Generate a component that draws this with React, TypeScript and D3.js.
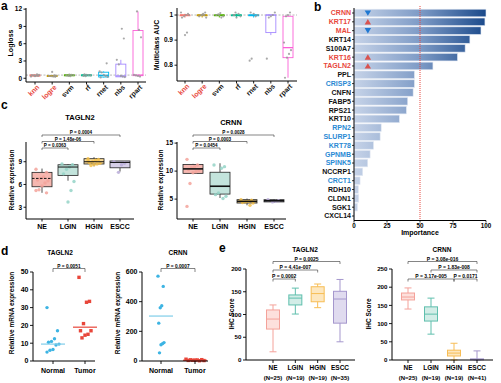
import React from 'react';
import * as d3 from 'd3';

const FONT = "'Liberation Sans', Arial, Helvetica, sans-serif";
const RED = '#e8473c';
const BLUE = '#2a8ad4';

// ---------------- panel a ----------------
const models = ['knn', 'logre', 'svm', 'rf', 'rnet', 'nbs', 'rpart'];
const modelColors = ['#F8766D', '#C49A00', '#53B400', '#00C094', '#00B6EB', '#A58AFF', '#FB61D7'];
const highlightModels = ['knn', 'logre'];
// [min, q1, median, q3, max]
const loglossStats = [
  [0.3, 0.38, 0.47, 0.58, 0.7],
  [0.25, 0.3, 0.38, 0.47, 0.55],
  [0.35, 0.42, 0.52, 0.6, 0.65],
  [0.35, 0.42, 0.52, 0.6, 0.7],
  [0.15, 0.22, 0.5, 1.05, 1.2],
  [0.2, 0.25, 0.4, 2.45, 3.2],
  [0.3, 0.45, 0.55, 8.3, 11.6],
];
const loglossPoints = [
  [0.3, 0.4, 0.45, 0.5, 0.55, 0.6, 0.7, 0.35],
  [0.25, 0.3, 0.35, 0.4, 0.45, 0.5, 1.1],
  [0.35, 0.4, 0.5, 0.55, 0.6, 0.65],
  [0.35, 0.4, 0.5, 0.55, 0.6, 0.7],
  [0.15, 0.25, 0.4, 0.6, 1.0, 1.2, 2.6],
  [0.2, 0.3, 0.4, 2.4, 3.2, 6.9, 8.6],
  [0.3, 0.4, 0.5, 0.6, 7.1, 8.4, 11.6],
];
const loglossTicks = [0, 3, 6, 9, 12];
const loglossRef = 0.55;
const aucStats = [
  [0.99, 0.997, 1.0, 1.0, 1.005],
  [0.99, 0.997, 1.0, 1.0, 1.005],
  [0.99, 0.997, 1.0, 1.0, 1.005],
  [0.99, 0.997, 1.0, 1.0, 1.005],
  [0.99, 0.997, 1.0, 1.0, 1.005],
  [0.92, 0.93, 1.0, 1.0, 1.0],
  [0.75, 0.83, 0.87, 0.995, 1.0],
];
const aucPoints = [
  [1.01, 1.005, 1.0, 0.995, 0.99, 1.0, 0.93, 0.92],
  [1.01, 1.005, 1.0, 0.995, 0.99, 1.0, 1.0],
  [1.008, 1.003, 1.0, 0.995, 0.99, 1.0],
  [1.01, 1.0, 0.995, 1.005, 0.99, 1.0],
  [1.01, 1.0, 0.995, 1.005, 0.826, 0.818],
  [1.01, 1.0, 0.995, 0.99, 0.826],
  [1.01, 1.0, 0.995, 0.89, 0.86, 0.845, 0.83, 0.75],
];
const aucTicks = [0.8, 0.9, 1];
const aucRef = 1.0;

// ---------------- panel b ----------------
const genes = ['CRNN', 'KRT17', 'MAL', 'KRT14', 'S100A7', 'KRT16', 'TAGLN2', 'PPL', 'CRISP3', 'CNFN', 'FABP5', 'RPS21',
  'KRT10', 'RPN2', 'SLURP1', 'KRT78', 'GPNMB', 'SPINK5', 'NCCRP1', 'CRCT1', 'RDH10', 'CLDN1', 'SGK1', 'CXCL14'];
const importance = [100, 99.2, 96.2, 87.8, 84.2, 78.4, 59.8, 45.8, 45.8, 44.8, 40.7, 39.7,
  34.4, 20.6, 19.8, 14.8, 12.2, 10.4, 6.6, 4.6, 3.3, 3.6, 2.6, 0.3];
const upGenes = ['KRT17', 'KRT16', 'TAGLN2'];
const downGenes = ['CRNN', 'MAL'];
const redGenes = ['CRNN', 'KRT17', 'MAL', 'KRT16', 'TAGLN2'];
const blueGenes = ['CRISP3', 'RPN2', 'SLURP1', 'KRT78', 'GPNMB', 'SPINK5', 'CRCT1'];
const importanceTicks = [0, 25, 50, 75, 100];
const importanceCutoff = 50;

// ---------------- panel c ----------------
const cGroups = ['NE', 'LGIN', 'HGIN', 'ESCC'];
const cFill = ['#f5b7b0', '#c3e4dc', '#f8d996', '#d6cfe7'];
const cPointColors = ['#f3a39b', '#94d3c7', '#f5c14a', '#b8acd8'];
const tagln2CStats = [[4.9, 5.7, 6.8, 7.6, 8.1], [6.5, 7.2, 8.3, 8.6, 8.7], [8.4, 8.7, 9.0, 9.4, 9.6], [7.7, 8.2, 8.9, 9.1, 9.1]];
const tagln2CPoints = [
  [8.0, 7.6, 7.0, 6.8, 6.6, 6.5, 6.2, 5.8, 5.3, 5.2, 4.9],
  [8.7, 8.6, 8.3, 8.0, 7.4, 6.4, 5.2, 3.7],
  [9.4, 9.3, 9.2, 9.0, 8.9, 8.8, 8.7, 8.6, 8.5, 9.1],
  [9.0, 8.8, 8.6, 7.6],
];
const tagln2CTicks = [3, 6, 9];
const tagln2CBrackets: [string, string, string, number][] = [
  ['P = 0.0004', 'NE', 'ESCC', 0], ['P = 1.48e-06', 'NE', 'HGIN', 1], ['P = 0.0363', 'NE', 'LGIN', 2]];
const crnnCStats = [[9.6, 9.6, 10.4, 11.2, 11.3], [5.2, 5.9, 7.3, 9.8, 11.4], [3.9, 4.3, 4.6, 4.9, 5.1], [4.4, 4.5, 4.7, 4.9, 5.0]];
const crnnCPoints = [
  [12.1, 11.1, 10.8, 10.6, 10.3, 10.1, 9.9, 9.7, 7.8, 3.7],
  [11.1, 10.8, 10.5, 6.1, 5.8, 5.5, 5.1],
  [4.9, 4.8, 4.6, 4.5, 4.4, 4.3, 3.9],
  [4.9, 4.7, 4.6, 4.5],
];
const crnnCTicks = [5, 10, 15];
const crnnCBrackets: [string, string, string, number][] = [
  ['P = 0.0028', 'NE', 'ESCC', 0], ['P = 0.0003', 'NE', 'HGIN', 1], ['P = 0.0454', 'NE', 'LGIN', 2]];

// ---------------- panel d ----------------
const dGroups = ['Normal', 'Tumor'];
const tagln2DNormal = [30, 17, 12.5, 11, 10.5, 9.5, 9, 6.5, 6, 5];
const tagln2DTumor = [47, 33.5, 33, 21, 17, 17, 15, 14.5, 13];
const tagln2DCenter = [9.5, 19];
const tagln2DTicks = [0, 10, 20, 30, 40, 50];
const tagln2DP = 'P = 0.0051';
const crnnDNormal = [572, 503, 372, 359, 255, 124, 117, 110, 55];
const crnnDTumor = [12, 9, 7, 5, 4, 3, 2, 6, 8];
const crnnDCenter = [303, 5];
const crnnDTicks = [0, 200, 400, 600];
const crnnDP = 'P = 0.0007';

// ---------------- panel e ----------------
const eGroups = ['NE', 'LGIN', 'HGIN', 'ESCC'];
const tagln2EN = ['(N=25)', '(N=19)', '(N=19)', '(N=35)'];
const crnnEN = ['(N=25)', '(N=19)', '(N=19)', '(N=41)'];
const eStroke = ['#f4a29a', '#5fbfad', '#f7bd55', '#a597cd'];
const eFill = ['#fde0dc', '#d2ede7', '#fde7bf', '#e0dbef'];
const tagln2EStats = [[18, 68, 90, 110, 121], [101, 121, 136, 143, 158], [115, 128, 146, 161, 167], [40, 81, 134, 151, 177]];
const tagln2ETicks = [0, 50, 100, 150, 200];
const tagln2EBrackets: [string, string, string, number][] = [
  ['P = 0.0025', 'NE', 'ESCC', 0], ['P = 4.41e-007', 'NE', 'HGIN', 1], ['P = 0.0002', 'NE', 'LGIN', 2]];
const crnnEStats = [[140, 165, 173, 184, 198], [71, 107, 126, 146, 170], [0, 11, 19, 27, 46], [0, 0.5, 1.5, 3, 25]];
const crnnETicks = [0, 50, 100, 150, 200, 250];
const crnnEBrackets: [string, string, string, number][] = [
  ['P = 3.08e-016', 'NE', 'ESCC', 0], ['P = 1.83e-008', 'LGIN', 'ESCC', 1],
  ['P = 3.17e-005', 'NE', 'HGIN', 2], ['P = 0.0171', 'HGIN', 'ESCC', 2]];

// deterministic jitter
const jit = (i: number, amp: number) => (((i * 7) % 9) / 8 - 0.5) * 2 * amp;

function YAxis({ x, y, ticks, fmt, top, bottom, fs = 6.5, tl = 2.5 }: any) {
  return (
    <g>
      <line x1={x} x2={x} y1={top} y2={bottom} stroke="#000" strokeWidth={1} />
      {ticks.map((t: number) => (
        <g key={t}>
          <line x1={x - tl} x2={x} y1={y(t)} y2={y(t)} stroke="#000" strokeWidth={0.9} />
          <text x={x - tl - 1.5} y={y(t)} dy="0.35em" textAnchor="end" fontSize={fs} fontWeight="bold">{fmt ? fmt(t) : t}</text>
        </g>
      ))}
    </g>
  );
}

function VLabel({ x, y, text, fs = 6.5 }: any) {
  return <text transform={`translate(${x},${y}) rotate(-90)`} textAnchor="middle" dy="0.35em" fontSize={fs} fontWeight="bold">{text}</text>;
}

function ModelPanel({ stats, points, ticks, fmt, domain, yRange, xRange, axisX, xEnd, refValue, ylabel, ylabelX, ylabelY }: any) {
  const x = d3.scalePoint<string>().domain(models).range(xRange);
  const y = d3.scaleLinear().domain(domain).range(yRange);
  const [yb, yt] = yRange;
  const bw = 10;
  return (
    <g>
      <line x1={axisX} x2={xEnd} y1={y(refValue)} y2={y(refValue)} stroke="#9a9a9a" strokeDasharray="2,1.5" strokeWidth={0.7} />
      {models.map((m, i) => {
        const [mn, q1, md, q3, mx] = stats[i];
        const cx = x(m)!;
        const c = modelColors[i];
        return (
          <g key={m}>
            <line x1={cx} x2={cx} y1={y(mx)} y2={y(q3)} stroke={c} strokeWidth={0.9} />
            <line x1={cx} x2={cx} y1={y(q1)} y2={y(mn)} stroke={c} strokeWidth={0.9} />
            <rect x={cx - bw / 2} y={y(q3)} width={bw} height={Math.max(y(q1) - y(q3), 0.6)} fill="none" stroke={c} strokeWidth={0.9} />
            <line x1={cx - bw / 2} x2={cx + bw / 2} y1={y(md)} y2={y(md)} stroke={c} strokeWidth={1.3} />
          </g>
        );
      })}
      {models.map((m, i) => points[i].map((v: number, j: number) => (
        <circle key={m + j} cx={x(m)! + jit(j + i, 4)} cy={y(v)} r={1.1} fill="#9a9a9a" opacity={0.85} />
      )))}
      <YAxis x={axisX} y={y} ticks={ticks} fmt={fmt} top={yt} bottom={yb} />
      <line x1={axisX} x2={xEnd} y1={yb} y2={yb} stroke="#000" strokeWidth={1} />
      {models.map((m, i) => (
        <g key={m}>
          <line x1={x(m)} x2={x(m)} y1={yb} y2={yb + 2.5} stroke="#000" strokeWidth={0.9} />
          <text transform={`translate(${x(m)! + 3},${yb + 4}) rotate(-45)`} textAnchor="end" dy="0.35em" fontSize={7}
            fontWeight="bold" fill={highlightModels.includes(m) ? RED : '#111'}>{m}</text>
        </g>
      ))}
      <VLabel x={ylabelX} y={ylabelY} text={ylabel} fs={7} />
    </g>
  );
}

function PanelB() {
  const y = d3.scalePoint<string>().domain(genes).range([13, 216]);
  const x = d3.scaleLinear().domain([0, 100]).range([354, 486]);
  const bh = 7.6;
  const axY = 220.5;
  return (
    <g>
      <defs>
        <linearGradient id="impGrad" gradientUnits="userSpaceOnUse" x1={x(0)} x2={x(100)} y1={0} y2={0}>
          <stop offset="0" stopColor="#c6d3e8" />
          <stop offset="0.5" stopColor="#7e9bc6" />
          <stop offset="1" stopColor="#1b4a8b" />
        </linearGradient>
      </defs>
      {genes.map((g, i) => (
        <rect key={g} x={x(0)} y={y(g)! - bh / 2} width={x(importance[i]) - x(0)} height={bh}
          fill="url(#impGrad)" stroke="#e3e9f3" strokeWidth={0.6} />
      ))}
      {genes.map((g) => {
        const cy = y(g)!;
        const tx = x(10.5);
        if (downGenes.includes(g)) return <path key={g} d={`M${tx - 3.2},${cy - 2.6}L${tx + 3.2},${cy - 2.6}L${tx},${cy + 2.8}Z`} fill="#1e78d2" />;
        if (upGenes.includes(g)) return <path key={g} d={`M${tx - 3.2},${cy + 2.6}L${tx + 3.2},${cy + 2.6}L${tx},${cy - 2.8}Z`} fill="#d9534f" />;
        return null;
      })}
      <line x1={x(importanceCutoff)} x2={x(importanceCutoff)} y1={6} y2={axY} stroke={RED} strokeWidth={1} strokeDasharray="1,1" />
      <line x1={x(0)} x2={x(0)} y1={8} y2={axY} stroke="#000" strokeWidth={1} />
      <line x1={x(0)} x2={x(100)} y1={axY} y2={axY} stroke="#000" strokeWidth={1} />
      {genes.map((g) => (
        <g key={g}>
          <line x1={x(0) - 2} x2={x(0)} y1={y(g)} y2={y(g)} stroke="#000" strokeWidth={0.8} />
          <text x={x(0) - 3} y={y(g)} dy="0.35em" textAnchor="end" fontSize={7} fontWeight="bold"
            fill={redGenes.includes(g) ? RED : blueGenes.includes(g) ? BLUE : '#111'}>{g}</text>
        </g>
      ))}
      {importanceTicks.map((t) => (
        <g key={t}>
          <line x1={x(t)} x2={x(t)} y1={axY} y2={axY + 2} stroke="#000" strokeWidth={0.8} />
          <text x={x(t)} y={axY + 7.5} textAnchor="middle" fontSize={6.3} fontWeight="bold">{t}</text>
        </g>
      ))}
      <text x={x(50)} y={234.5} textAnchor="middle" fontSize={7} fontWeight="bold">Importance</text>
    </g>
  );
}

function Bracket({ x1, x2, y, label, fs = 4.6, tick = 2 }: any) {
  return (
    <g>
      <path d={`M${x1},${y + tick}V${y}H${x2}V${y + tick}`} fill="none" stroke="#333" strokeWidth={0.6} />
      <text x={(x1 + x2) / 2} y={y - 1} textAnchor="middle" fontSize={fs} fontWeight="bold">{label}</text>
    </g>
  );
}

function PanelCPlot({ title, titleX, titleY, stats, points, ticks, domain, xRange, axisX, xEnd, brackets, dashedFirst, ylabelX }: any) {
  const yb = 219, yt = 142;
  const x = d3.scalePoint<string>().domain(cGroups).range(xRange);
  const y = d3.scaleLinear().domain(domain).range([yb, yt]);
  const bw = 20;
  const levelY = [135, 141.5, 148];
  return (
    <g>
      <text x={titleX} y={titleY} textAnchor="middle" fontSize={7.5} fontWeight="bold">{title}</text>
      {brackets.map(([lab, a, b, lv]: any) => (
        <Bracket key={lab} x1={x(a)} x2={x(b)} y={levelY[lv]} label={lab} />
      ))}
      {cGroups.map((g, i) => {
        const [mn, q1, md, q3, mx] = stats[i];
        const cx = x(g)!;
        return (
          <g key={g}>
            <line x1={cx} x2={cx} y1={y(mx)} y2={y(q3)} stroke="#222" strokeWidth={0.8} />
            <line x1={cx} x2={cx} y1={y(q1)} y2={y(mn)} stroke="#222" strokeWidth={0.8} />
            <rect x={cx - bw / 2} y={y(q3)} width={bw} height={y(q1) - y(q3)} fill={cFill[i]} stroke="#222" strokeWidth={0.8} />
            {points[i].map((v: number, j: number) => (
              <circle key={j} cx={cx + jit(j, 6)} cy={y(v)} r={1.7} fill={cPointColors[i]} opacity={0.85} />
            ))}
            <line x1={cx - bw / 2} x2={cx + bw / 2} y1={y(md)} y2={y(md)} stroke="#111" strokeWidth={dashedFirst ? 1 : 1.6}
              strokeDasharray={dashedFirst && i === 0 ? '2.5,1.5' : undefined} />
          </g>
        );
      })}
      <YAxis x={axisX} y={y} ticks={ticks} top={yt} bottom={yb} />
      <line x1={axisX} x2={xEnd} y1={yb} y2={yb} stroke="#000" strokeWidth={1} />
      {cGroups.map((g) => (
        <g key={g}>
          <line x1={x(g)} x2={x(g)} y1={yb} y2={yb + 2.5} stroke="#000" strokeWidth={0.9} />
          <text x={x(g)} y={yb + 10} textAnchor="middle" fontSize={7} fontWeight="bold">{g}</text>
        </g>
      ))}
      <VLabel x={ylabelX} y={180} text="Relative expression" />
    </g>
  );
}

function PanelDPlot({ title, titleX, normal, tumor, center, ticks, domain, axisX, xEnd, xRange, p, ylabelX, normalAmp, tumorAmp }: any) {
  const yb = 361, yt = 272;
  const x = d3.scalePoint<string>().domain(dGroups).range(xRange);
  const y = d3.scaleLinear().domain(domain).range([yb, yt]);
  const xn = x('Normal')!, xt = x('Tumor')!;
  return (
    <g>
      <text x={titleX} y={255} textAnchor="middle" fontSize={6.5} fontWeight="bold">{title}</text>
      <Bracket x1={xn} x2={xt} y={268.5} label={p} fs={4.8} tick={3.5} />
      {normal.map((v: number, j: number) => (
        <circle key={'n' + j} cx={xn + jit(j, normalAmp)} cy={y(v)} r={1.7} fill="#3db4e3" />
      ))}
      {tumor.map((v: number, j: number) => (
        <rect key={'t' + j} x={xt + jit(j, tumorAmp) - 1.7} y={y(v) - 1.7} width={3.4} height={3.4} fill="#e8463a" />
      ))}
      <line x1={xn - 12} x2={xn + 12} y1={y(center[0])} y2={y(center[0])} stroke="#7fcde9" strokeWidth={1.2} />
      <line x1={xt - 12} x2={xt + 12} y1={y(center[1])} y2={y(center[1])} stroke="#e8463a" strokeWidth={1.2} />
      <YAxis x={axisX} y={y} ticks={ticks} top={yt} bottom={yb} fs={7} tl={3} />
      <line x1={axisX} x2={xEnd} y1={yb} y2={yb} stroke="#000" strokeWidth={1} />
      {dGroups.map((g) => (
        <g key={g}>
          <line x1={x(g)} x2={x(g)} y1={yb} y2={yb + 3} stroke="#000" strokeWidth={0.9} />
          <text x={x(g)} y={yb + 12} textAnchor="middle" fontSize={7} fontWeight="bold">{g}</text>
        </g>
      ))}
      <VLabel x={ylabelX} y={313} text="Relative mRNA expression" />
    </g>
  );
}

function PanelEPlot({ title, titleX, stats, ns, ticks, domain, axisX, xEnd, xRange, brackets, ylabelX }: any) {
  const yb = 360, yt = 269;
  const x = d3.scalePoint<string>().domain(eGroups).range(xRange);
  const y = d3.scaleLinear().domain(domain).range([yb, yt]);
  const bw = 13, cw = 7;
  const levelY = [261.5, 270, 279];
  return (
    <g>
      <text x={titleX} y={252} textAnchor="middle" fontSize={6.5} fontWeight="bold">{title}</text>
      {brackets.map(([lab, a, b, lv]: any) => (
        <Bracket key={lab} x1={x(a)} x2={x(b)} y={levelY[lv]} label={lab} fs={5} tick={2.5} />
      ))}
      {eGroups.map((g, i) => {
        const [mn, q1, md, q3, mx] = stats[i];
        const cx = x(g)!;
        const c = eStroke[i];
        return (
          <g key={g}>
            <line x1={cx} x2={cx} y1={y(mx)} y2={y(mn)} stroke={c} strokeWidth={1} />
            <line x1={cx - cw / 2} x2={cx + cw / 2} y1={y(mx)} y2={y(mx)} stroke={c} strokeWidth={1} />
            <line x1={cx - cw / 2} x2={cx + cw / 2} y1={y(mn)} y2={y(mn)} stroke={c} strokeWidth={1} />
            <rect x={cx - bw / 2} y={y(q3)} width={bw} height={Math.max(y(q1) - y(q3), 0.8)} fill={eFill[i]} stroke={c} strokeWidth={1} />
            <line x1={cx - bw / 2} x2={cx + bw / 2} y1={y(md)} y2={y(md)} stroke={c} strokeWidth={1} />
          </g>
        );
      })}
      <YAxis x={axisX} y={y} ticks={ticks} top={yt} bottom={yb} fs={6.2} tl={3} />
      <line x1={axisX} x2={xEnd} y1={yb} y2={yb} stroke="#000" strokeWidth={1} />
      {eGroups.map((g, i) => (
        <g key={g}>
          <line x1={x(g)} x2={x(g)} y1={yb} y2={yb + 3} stroke="#000" strokeWidth={0.9} />
          <text x={x(g)} y={yb + 10} textAnchor="middle" fontSize={6.5} fontWeight="bold">{g}</text>
          <text x={x(g)} y={yb + 20} textAnchor="middle" fontSize={6} fontWeight="bold">{ns[i]}</text>
        </g>
      ))}
      <VLabel x={ylabelX} y={314} text="IHC Score" />
    </g>
  );
}

export default function App() {
  return (
    <svg width={501} height={383} viewBox="0 0 501 383" style={{ position: 'absolute', left: 0, top: 0, background: '#fff' }}
      fontFamily={FONT}>
      <rect width={501} height={383} fill="#fff" />
      {/* panel letters */}
      <text x={1} y={10} fontSize={12} fontWeight="bold">a</text>
      <text x={314} y={11} fontSize={12} fontWeight="bold">b</text>
      <text x={1} y={109} fontSize={12} fontWeight="bold">c</text>
      <text x={1} y={255} fontSize={12} fontWeight="bold">d</text>
      <text x={219} y={252} fontSize={12} fontWeight="bold">e</text>

      <ModelPanel stats={loglossStats} points={loglossPoints} ticks={loglossTicks} domain={[-0.65, 12.2]} yRange={[82, 8]}
        xRange={[35, 138]} axisX={26} xEnd={146} refValue={loglossRef} ylabel="Logloss" ylabelX={11} ylabelY={43} />
      <ModelPanel stats={aucStats} points={aucPoints} ticks={aucTicks} fmt={(t: number) => (t === 1 ? '1' : String(t))}
        domain={[0.737, 1.028]} yRange={[81, 8]} xRange={[185, 288]} axisX={177} xEnd={297} refValue={aucRef}
        ylabel="Multiclass AUC" ylabelX={157} ylabelY={45} />

      <PanelB />

      <PanelCPlot title="TAGLN2" titleX={80} titleY={120} stats={tagln2CStats} points={tagln2CPoints} ticks={tagln2CTicks}
        domain={[1.45, 11.6]} xRange={[42, 120]} axisX={26} xEnd={134} brackets={tagln2CBrackets} dashedFirst ylabelX={12} />
      <PanelCPlot title="CRNN" titleX={231} titleY={125} stats={crnnCStats} points={crnnCPoints} ticks={crnnCTicks}
        domain={[1.45, 15.2]} xRange={[193, 274]} axisX={177} xEnd={286} brackets={crnnCBrackets} ylabelX={161} />

      <PanelDPlot title="TAGLN2" titleX={60} normal={tagln2DNormal} tumor={tagln2DTumor} center={tagln2DCenter}
        ticks={tagln2DTicks} domain={[0, 50]} axisX={33} xEnd={95} xRange={[53, 85]} p={tagln2DP} ylabelX={12}
        normalAmp={6} tumorAmp={6} />
      <PanelDPlot title="CRNN" titleX={178} normal={crnnDNormal} tumor={crnnDTumor} center={crnnDCenter}
        ticks={crnnDTicks} domain={[0, 600]} axisX={142} xEnd={208} xRange={[161, 195]} p={crnnDP} ylabelX={118}
        normalAmp={3} tumorAmp={9} />

      <PanelEPlot title="TAGLN2" titleX={305} stats={tagln2EStats} ns={tagln2EN} ticks={tagln2ETicks} domain={[0, 200]}
        axisX={246} xEnd={355} xRange={[273, 340]} brackets={tagln2EBrackets} ylabelX={232} />
      <PanelEPlot title="CRNN" titleX={442} stats={crnnEStats} ns={crnnEN} ticks={crnnETicks} domain={[0, 250]}
        axisX={392} xEnd={493} xRange={[408, 477]} brackets={crnnEBrackets} ylabelX={369} />
    </svg>
  );
}
